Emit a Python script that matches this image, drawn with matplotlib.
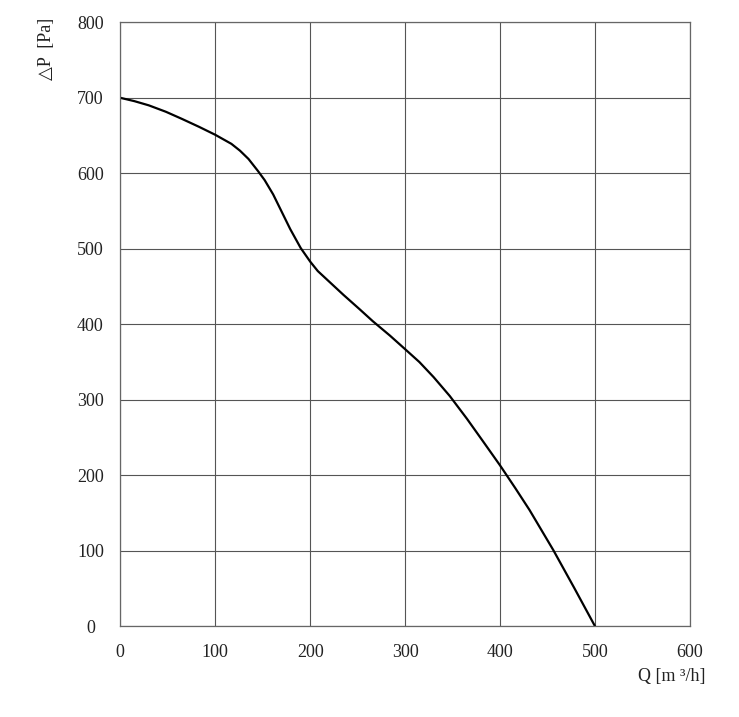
import matplotlib.pyplot as plt

# fan curve
flow = [0, 15, 30, 48, 65, 83, 100, 117, 126, 135, 145, 152, 161, 170, 179,
        190, 200, 208, 217, 235, 252, 266, 284, 300, 315, 330, 347, 365, 382,
        400, 416, 431, 456, 478, 500]
pressure = [700, 695.5, 690, 681.5, 672, 661.5, 651, 639, 630, 619, 603, 591, 572,
            549, 526, 501, 483, 470.5, 460, 439, 420, 404, 385, 367, 350, 330, 305,
            275, 245, 213, 183, 154, 101, 51, 0]

x_ticks = [0, 100, 200, 300, 400, 500, 600]
y_ticks = [0, 100, 200, 300, 400, 500, 600, 700, 800]

fonts = ['Liberation Serif', 'DejaVu Serif']
plt.rcParams['font.family'] = fonts

fig = plt.figure(figsize=(7.39, 7.17), dpi=100)
ax = fig.add_axes([0.1628, 0.1265, 0.7709, 0.8424])

ax.plot(flow, pressure, color='black', linewidth=1.6,
        solid_capstyle='round', solid_joinstyle='round')

ax.set_xlim(0, 600)
ax.set_ylim(0, 800)
ax.set_xticks(x_ticks)
ax.set_yticks(y_ticks)
ax.grid(True, color='#555555', linewidth=0.8)
ax.set_axisbelow(True)
for sp in ax.spines.values():
    sp.set_color('#666666')
    sp.set_linewidth(0.9)

ax.tick_params(axis='both', length=0, labelsize=13, colors='#222222')
ax.tick_params(axis='x', pad=13)
ax.tick_params(axis='y', pad=21.5)
for lab in ax.get_yticklabels():
    lab.set_horizontalalignment('center')

fig.text(47 / 739, 1 - 18 / 717, '△P  [Pa]', rotation=90, ha='center', va='top',
         fontsize=13, color='#222222')
fig.text(706 / 739, 1 - 676 / 717, 'Q [m ³/h]', ha='right', va='center',
         fontsize=13, color='#222222')

fig.savefig('out.png', dpi=100)
